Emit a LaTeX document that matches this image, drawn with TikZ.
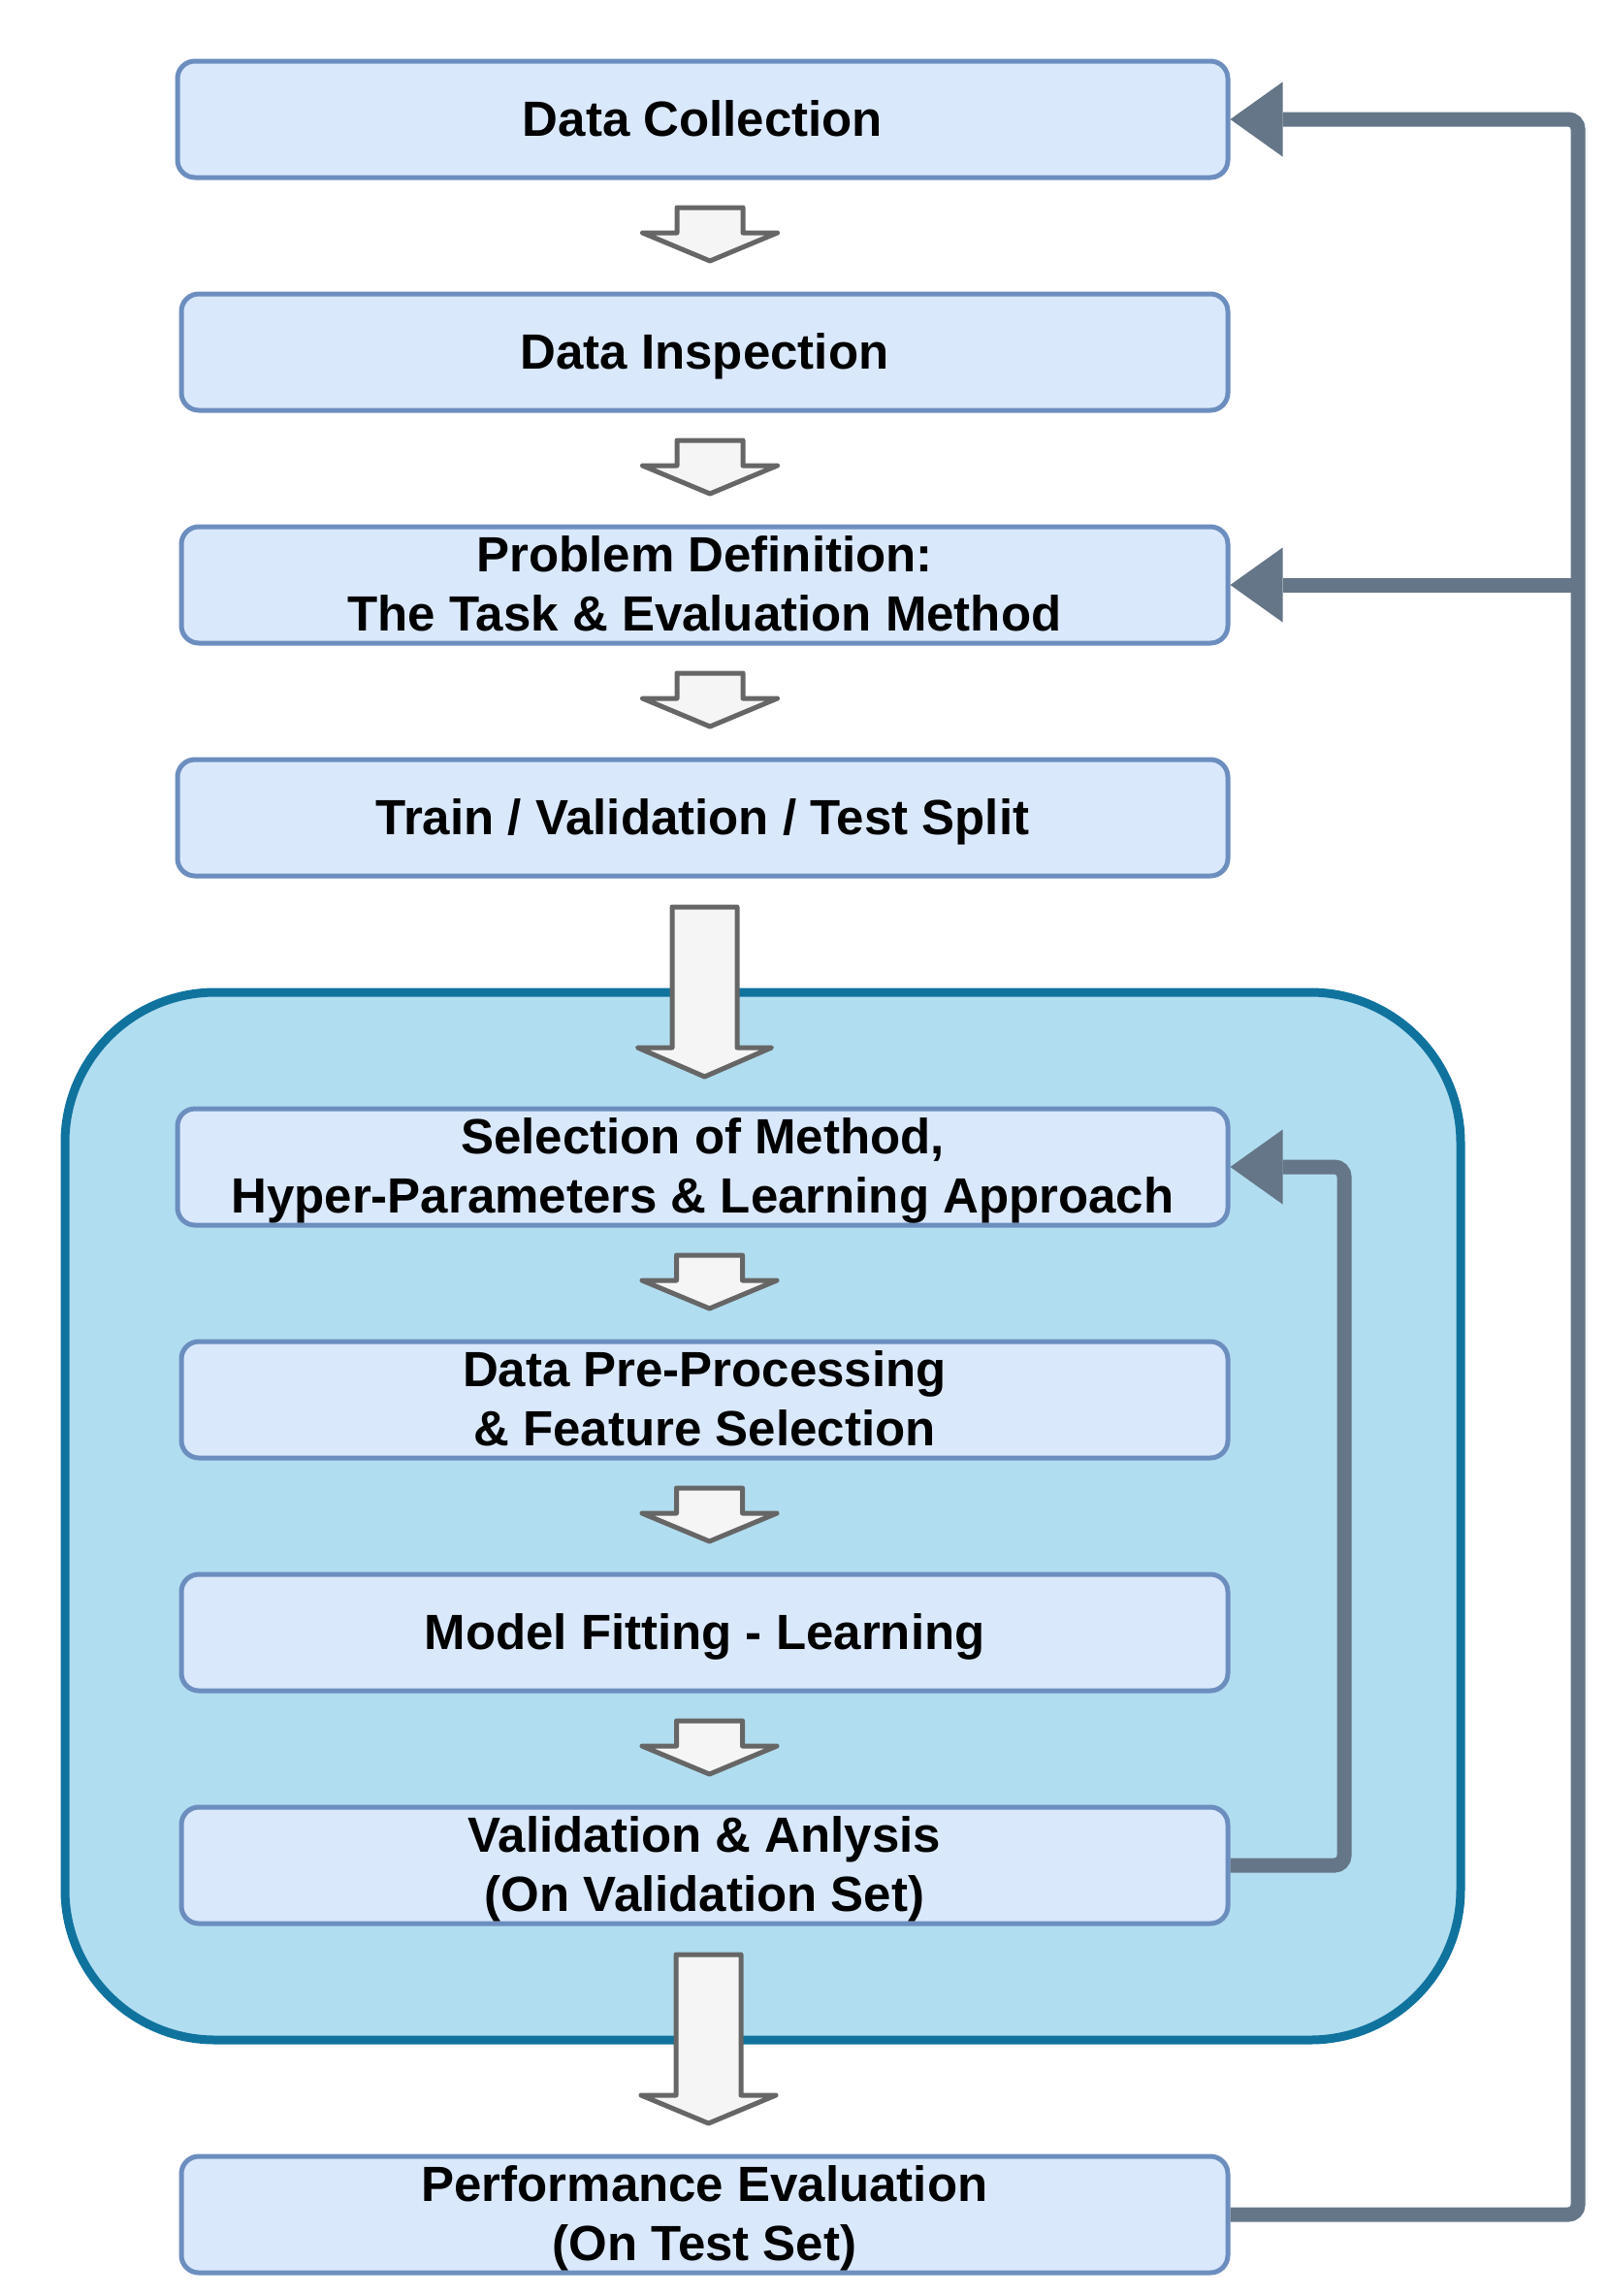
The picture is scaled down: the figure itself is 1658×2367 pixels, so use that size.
\documentclass[tikz,border=0pt]{standalone}
\usepackage{fontspec}
\setmainfont{Liberation Sans}
\usetikzlibrary{arrows.meta}
\definecolor{boxfill}{HTML}{DAE8FC}
\definecolor{boxline}{HTML}{6C8EBF}
\definecolor{grpfill}{HTML}{B1DDF0}
\definecolor{grpline}{HTML}{10739E}
\definecolor{arrfill}{HTML}{F5F5F5}
\definecolor{arrline}{HTML}{666666}
\definecolor{conn}{HTML}{647687}
\begin{document}
\begin{tikzpicture}[x=1pt,y=-1pt,
  stepbox/.style={draw=boxline, fill=boxfill, line width=5pt, rounded corners=18pt,
    minimum width=1079pt, minimum height=120pt, inner sep=0pt, align=center,
    font=\fontsize{51}{61}\selectfont\bfseries},
  wide/.style={minimum width=1083pt},
  one/.style={text height=47.6pt, text depth=12.4pt},
  two/.style={text height=107.6pt, text depth=12.4pt},
  group/.style={draw=grpline, fill=grpfill, line width=9pt, rounded corners=155pt},
  loop/.style={draw=conn, line width=15pt, rounded corners=10pt},
  tip/.style={-{Triangle[length=54pt,width=77pt,line width=0pt]}},
  blockarr/.style={draw=arrline, fill=arrfill, line width=5pt, line join=round},
  pics/downarrow/.style args={#1/#2/#3/#4}{code={
    \path[blockarr] (-#3,0) -- (#3,0) -- (#3,#1) -- (#4,#1) -- (0,#2) -- (-#4,#1) -- (-#3,#1) -- cycle;}}
]
\useasboundingbox (0,0) rectangle (1658,2367);

% group container
\path[group] (67,1023) rectangle (1506,2103);

% steps
\node[stepbox,wide,one] (dc)  at (724.5,123)  {Data Collection};
\node[stepbox,one] (di)  at (726.5,363)  {Data Inspection};
\node[stepbox,two] (pd)  at (726.5,603)  {Problem Definition:\\The Task \& Evaluation Method};
\node[stepbox,wide,one] (tvt) at (724.5,843)  {Train / Validation / Test Split};
\node[stepbox,wide,two] (sel) at (724.5,1203) {Selection of Method,\\Hyper-Parameters \& Learning Approach};
\node[stepbox,two] (dpp) at (726.5,1443) {Data Pre-Processing\\\& Feature Selection};
\node[stepbox,one] (mf)  at (726.5,1683) {Model Fitting - Learning};
\node[stepbox,two] (val) at (726.5,1923) {Validation \& Anlysis\\(On Validation Set)};
\node[stepbox,two] (pe)  at (726.5,2283) {Performance Evaluation\\(On Test Set)};

% block arrows
\pic at (732,214)  {downarrow=26/55/34/69.5};
\pic at (732,454)  {downarrow=26/55/34/69.5};
\pic at (732,694)  {downarrow=26/55/34/69.5};
\pic at (726.5,935) {downarrow=145/175/33.5/69};
\pic at (731.5,1294) {downarrow=26/55/34/69.5};
\pic at (731.5,1534) {downarrow=26/55/34/69.5};
\pic at (731.5,1774) {downarrow=26/55/34/69.5};
\pic at (730.5,2015) {downarrow=145/174/33.5/69.5};

% feedback loops
\coordinate (rb) at (1627,2283);
\coordinate (rt) at (1627,123);
\coordinate (rm) at (1627,603);
\coordinate (ib) at (1386,1923);
\coordinate (it) at (1386,1203);
\draw[loop,tip] (pe.east) -- (rb) -- (rt) -- (dc.east);
\draw[loop,tip,rounded corners=0pt] (rm) -- (pd.east);
\draw[loop,tip] (val.east) -- (ib) -- (it) -- (sel.east);
\end{tikzpicture}
\end{document}
